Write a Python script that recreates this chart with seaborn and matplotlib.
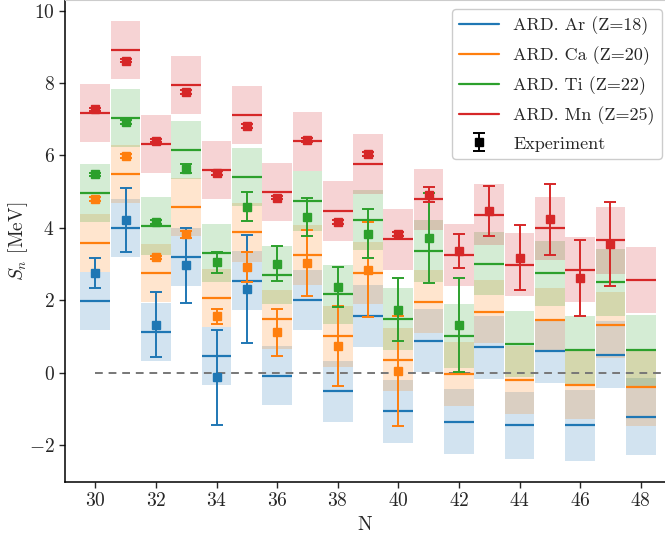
import matplotlib
matplotlib.use("Agg")
import matplotlib.pyplot as plt
import seaborn as sns
import numpy as np
from matplotlib.lines import Line2D
from matplotlib.legend_handler import HandlerErrorbar

# Neutron numbers covered by the model predictions
N = list(range(30, 49))

# Predicted one-neutron separation energies (MeV) per element
ar_pred = [1.98, 4.01, 1.13, 3.21, 0.46, 2.55, -0.07, 2.01, -0.50, 1.58,
           -1.06, 0.89, -1.34, 0.71, -1.44, 0.60, -1.44, 0.50, -1.21]
ca_pred = [3.59, 5.48, 2.75, 4.59, 2.06, 3.88, 1.48, 3.26, 1.01, 2.75,
           0.37, 1.97, -0.02, 1.69, -0.19, 1.47, -0.33, 1.32, -0.40]
ti_pred = [4.96, 7.04, 4.05, 6.15, 3.32, 5.41, 2.70, 4.75, 2.17, 4.21,
           1.49, 3.36, 1.03, 3.01, 0.80, 2.75, 0.62, 2.50, 0.62]
mn_pred = [7.17, 8.90, 6.33, 7.94, 5.61, 7.11, 4.99, 6.39, 4.47, 5.76,
           3.69, 4.79, 3.25, 4.37, 2.99, 3.99, 2.85, 3.66, 2.56]

# Half-width of each prediction's uncertainty band
ar_unc = [0.80, 0.80, 0.80, 0.80, 0.80, 0.81, 0.81, 0.83, 0.84, 0.85,
          0.86, 0.87, 0.89, 0.87, 0.92, 0.87, 0.98, 0.92, 1.06]
ca_unc = [0.80, 0.80, 0.80, 0.80, 0.80, 0.81, 0.81, 0.83, 0.84, 0.85,
          0.86, 0.87, 0.88, 0.87, 0.93, 0.87, 0.93, 0.92, 1.07]
ti_unc = [0.80, 0.80, 0.80, 0.80, 0.80, 0.81, 0.81, 0.82, 0.81, 0.83,
          0.85, 0.86, 0.88, 0.87, 0.90, 0.89, 0.95, 0.92, 0.98]
mn_unc = [0.80, 0.80, 0.80, 0.80, 0.80, 0.80, 0.81, 0.82, 0.82, 0.82,
          0.84, 0.84, 0.85, 0.85, 0.86, 0.86, 0.89, 0.92, 0.91]

# Measured separation energies with their uncertainties
ar_exp_N = [30, 31, 32, 33, 34, 35]
ar_exp = [2.76, 4.23, 1.33, 2.97, -0.12, 2.33]
ar_err = [0.41, 0.88, 0.90, 1.03, 1.31, 1.49]

ca_exp_N = list(range(30, 41))
ca_exp = [4.80, 5.99, 3.19, 3.83, 1.56, 2.93, 1.12, 3.03, 0.75, 2.85, 0.06]
ca_err = [0.05, 0.05, 0.05, 0.10, 0.20, 0.41, 0.64, 0.92, 1.11, 1.31, 1.51]

ti_exp_N = list(range(30, 43))
ti_exp = [5.48, 6.92, 4.16, 5.64, 3.05, 4.59, 3.01, 4.30, 2.37, 3.84, 1.75, 3.72, 1.33]
ti_err = [0.05, 0.05, 0.05, 0.13, 0.30, 0.39, 0.48, 0.53, 0.54, 0.67, 0.87, 1.24, 1.30]

mn_exp_N = list(range(30, 48))
mn_exp = [7.27, 8.62, 6.41, 7.75, 5.51, 6.82, 4.84, 6.42, 4.17, 6.04,
          3.84, 4.92, 3.37, 4.47, 3.18, 4.24, 2.62, 3.56]
mn_err = [0.05, 0.05, 0.05, 0.05, 0.05, 0.05, 0.05, 0.05, 0.05, 0.05,
          0.05, 0.21, 0.47, 0.69, 0.90, 0.98, 1.06, 1.16]

labels = ["ARD. Ar (Z=18)", "ARD. Ca (Z=20)", "ARD. Ti (Z=22)", "ARD. Mn (Z=25)"]

sns.set_style("ticks")
plt.rcParams.update({
    "font.family": "serif",
    "font.serif": ["cmr10"],
    "mathtext.fontset": "cm",
    "axes.formatter.use_mathtext": True,
    "axes.unicode_minus": True,
})
palette = sns.color_palette("tab10", 4)

fig = plt.figure(figsize=(6.65, 5.33), dpi=100)
ax = fig.add_axes([65 / 665, 1 - 481.7 / 533, 1 - 65 / 665, 481.7 / 533])

preds = [ar_pred, ca_pred, ti_pred, mn_pred]
uncs = [ar_unc, ca_unc, ti_unc, mn_unc]
exps = [(ar_exp_N, ar_exp, ar_err), (ca_exp_N, ca_exp, ca_err),
        (ti_exp_N, ti_exp, ti_err), (mn_exp_N, mn_exp, mn_err)]

Narr = np.array(N, dtype=float)

# uncertainty bands
for pred, unc, color in zip(preds, uncs, palette):
    p = np.array(pred)
    u = np.array(unc)
    ax.bar(Narr, 2 * u, bottom=p - u, width=0.98, color=color,
           alpha=0.2, linewidth=0, zorder=1)

# central predictions
for pred, color in zip(preds, palette):
    ax.hlines(pred, Narr - 0.49, Narr + 0.49, colors=[color], linewidth=1.6,
              zorder=2)

ax.hlines(0, 30, 49.5, colors="#777777", linestyles=(0, (4, 3)),
          linewidth=1.4, zorder=1.5)

# measurements
for (xs, ys, es), color in zip(exps, palette):
    ax.errorbar(xs, ys, yerr=es, fmt="s", color=color, markersize=5.5,
                capsize=4, elinewidth=1.4, capthick=1.4, zorder=3)

ax.set_xlim(29.0, 48.8)
ax.set_ylim(-3.0, 10.29)
ax.set_xticks(range(30, 49, 2))
ax.set_yticks(range(-2, 11, 2))
ax.tick_params(labelsize=14, length=4, width=1)
ax.set_xlabel("N", fontsize=14)
ax.set_ylabel(r"$S_n$ [MeV]", fontsize=14, labelpad=-1)

for s in ["left", "bottom"]:
    ax.spines[s].set_color("black")
    ax.spines[s].set_linewidth(1.1)
ax.spines["top"].set_color("#cccccc")
ax.spines["right"].set_visible(False)

handles = [Line2D([], [], color=c, lw=1.6) for c in palette]
exp_handle = ax.errorbar([np.nan], [np.nan], yerr=[1.0], fmt="s", color="black",
                         markersize=5.5, capsize=4, elinewidth=1.4,
                         capthick=1.4)
leg = ax.legend(handles + [exp_handle], labels + ["Experiment"],
                loc="upper right", bbox_to_anchor=(0.995, 0.981),
                borderaxespad=0.0, fontsize=13, frameon=True,
                fancybox=True, framealpha=1.0, edgecolor="#cccccc",
                handlelength=2.2, labelspacing=0.62,
                handler_map={exp_handle: HandlerErrorbar(xerr_size=0.5,
                                                         yerr_size=0.5)})

fig.savefig("out.png", dpi=100)
